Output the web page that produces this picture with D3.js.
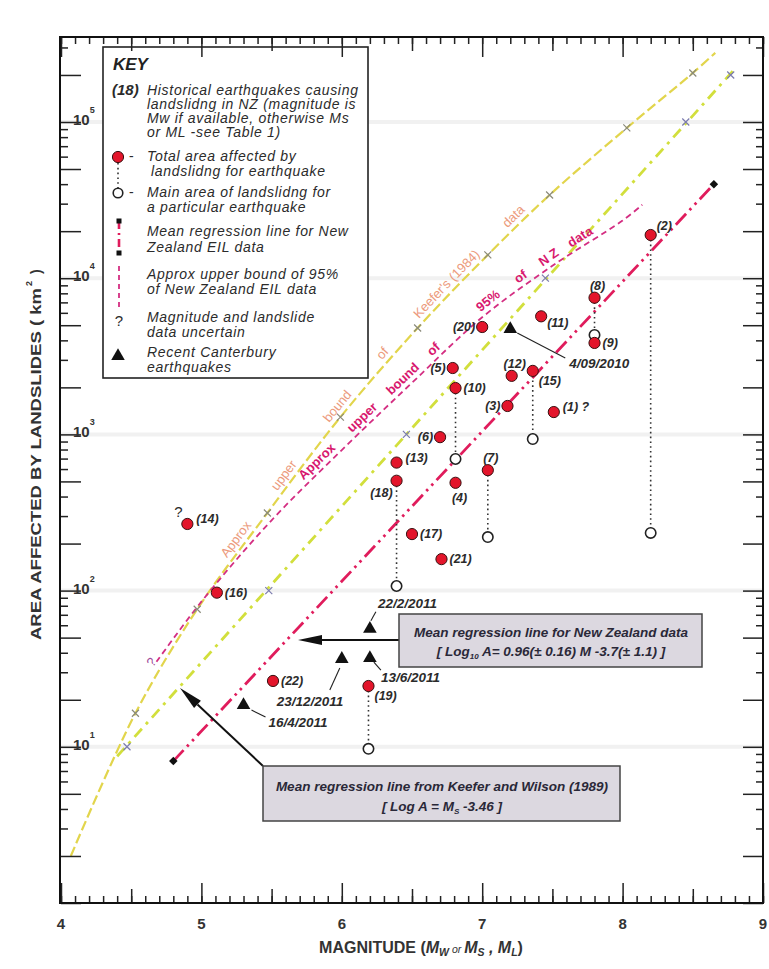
<!DOCTYPE html>
<html>
<head>
<meta charset="utf-8">
<script src="https://cdn.jsdelivr.net/npm/d3@7"></script>
<style>
  body { margin: 0; background: #fff; }
  svg { display: block; font-family: "Liberation Sans", Arial, sans-serif; }
</style>
</head>
<body>
<svg id="chart" width="769" height="969"></svg>
<script>
// ---------- data ----------
// historical NZ earthquakes (id, magnitude, total area affected, main area of landsliding)
const eqIds      = [1, 2, 3, 4, 5, 6, 7, 8, 9, 10, 11, 12, 13, 14, 15, 16, 17, 18, 19, 20, 21, 22];
const eqMag      = [7.51, 8.2, 7.18, 6.81, 6.79, 6.7, 7.04, 7.8, 7.8, 6.81, 7.42, 7.21, 6.39, 4.9, 7.36, 5.11, 6.5, 6.39, 6.19, 7.0, 6.71, 5.51];
const eqArea     = [1390, 18900, 1520, 490, 2660, 960, 590, 7500, 3850, 1980, 5700, 2370, 660, 267, 2550, 97, 230, 505, 24.5, 4870, 159, 26.4];
const eqMainArea = [null, 234, null, null, null, null, 220, 4330, null, 696, null, null, null, null, 934, null, null, 107, 9.7, null, null, null];
const eqQuery    = ["after", "", "", "", "", "", "", "", "", "", "", "", "", "above", "", "", "", "", "", "", "", ""];
const eqLabelSide = ["ru", "tr", "l", "b", "l", "l", "t", "t", "r", "r", "rl", "t", "ru", "ru", "br", "r", "r", "bl", "br", "l", "r", "r"];

// recent Canterbury earthquakes
const cantDates = ["4/09/2010", "22/2/2011", "13/6/2011", "23/12/2011", "16/4/2011"];
const cantMag   = [7.2, 6.2, 6.2, 6.0, 5.3];
const cantArea  = [4730, 57, 37, 36.5, 18.5];

// Keefer (1984) upper bound curve, markers at the inner points
const keeferM = [4.07, 4.53, 4.97, 5.47, 5.99, 6.54, 7.04, 7.48, 8.03, 8.5, 8.66];
const keeferA = [2.0, 16.4, 76, 314, 1290, 4800, 14100, 34100, 91600, 206000, 277000];

// Keefer & Wilson (1989) mean line and its markers
const kwM = [4.4, 8.8];
const kwA = [8.7, 219000];
const kwMarkM = [4.47, 5.48, 6.46, 7.45, 8.45, 8.77];
const kwMarkA = [10, 100, 1000, 10000, 100000, 200000];

// NZ mean regression line
const nzM = [4.8, 8.65];
const nzA = [8.1, 40000];

// approx upper bound of 95% of NZ data
const b95M = [4.68, 5.0, 5.5, 6.0, 6.5, 7.0, 7.5, 8.0, 8.14];
const b95A = [35, 85, 282, 794, 2140, 5620, 12000, 23400, 29500];

// words written along the two bound curves
const keeferWords  = ["Approx", "upper", "bound", "of", "Keefer's (1984)", "data"];
const keeferWordsM = [5.3, 5.64, 6.02, 6.34, 6.79, 7.27];
const b95Words  = ["Approx", "upper", "bound", "of", "95%", "of", "N Z", "data"];
const b95WordsM = [5.87, 6.19, 6.48, 6.7, 7.08, 7.31, 7.51, 7.73];

const xTickLabels = [4, 5, 6, 7, 8, 9];
const yTickExps = [1, 2, 3, 4, 5];

// ---------- colours ----------
const RED = "#e3152b", NZLINE = "#e01c5c", B95 = "#d42e82", KEEF = "#e2d54c", KW = "#d2df3c";
const SALMON = "#ec9a7c", MAGTXT = "#d8186e", INK = "#2b2b2b";

const svg = d3.select("#chart");
const plot = { left: 61, right: 763, top: 37, bottom: 903 };

const x = d3.scaleLinear().domain([4, 9]).range([plot.left, plot.right]);
const y = d3.scaleLog().domain([1, 3.5e5]).range([plot.bottom, plot.top]);

// faint decade bands
svg.append("g").selectAll("line")
    .data(yTickExps.map(e => Math.pow(10, e)))
    .join("line")
    .attr("x1", plot.left).attr("x2", plot.right)
    .attr("y1", d => y(d)).attr("y2", d => y(d))
    .attr("stroke", "#f1f1f1").attr("stroke-width", 4);

// ---------- curves ----------
const line = d3.line().x(d => x(d[0])).y(d => y(d[1]));
const curve = d3.line().x(d => x(d[0])).y(d => y(d[1])).curve(d3.curveCatmullRom);

const keeferPath = svg.append("path")
    .attr("id", "keefer")
    .attr("d", curve(d3.zip(keeferM, keeferA)))
    .attr("fill", "none").attr("stroke", KEEF)
    .attr("stroke-width", 2.2).attr("stroke-dasharray", "10,4");

svg.append("path")
    .attr("d", line(d3.zip(kwM, kwA)))
    .attr("fill", "none").attr("stroke", KW)
    .attr("stroke-width", 2.8).attr("stroke-dasharray", "11,6,3,6");

const b95Path = svg.append("path")
    .attr("id", "b95")
    .attr("d", curve(d3.zip(b95M, b95A)))
    .attr("fill", "none").attr("stroke", B95)
    .attr("stroke-width", 1.8).attr("stroke-dasharray", "6,4");

svg.append("path")
    .attr("d", line(d3.zip(nzM, nzA)))
    .attr("fill", "none").attr("stroke", NZLINE)
    .attr("stroke-width", 2.8).attr("stroke-dasharray", "15,5,2.5,5,2.5,5");

// black squares at the ends of the NZ regression line
svg.append("g").selectAll("rect")
    .data(d3.zip(nzM, nzA))
    .join("rect")
    .attr("x", d => x(d[0]) - 3).attr("y", d => y(d[1]) - 3)
    .attr("width", 6).attr("height", 6)
    .attr("fill", "#111")
    .attr("transform", d => `rotate(45,${x(d[0])},${y(d[1])})`);

// cross markers on the two yellow curves
function crosses(pts, color) {
    const s = 3.5;
    svg.append("g").selectAll("path")
        .data(pts)
        .join("path")
        .attr("d", d => {
            const cx = x(d[0]), cy = y(d[1]);
            return `M${cx - s},${cy - s}L${cx + s},${cy + s}M${cx - s},${cy + s}L${cx + s},${cy - s}`;
        })
        .attr("stroke", color).attr("stroke-width", 1.2);
}
crosses(d3.zip(keeferM, keeferA).slice(1, -1), "#8a8a7a");
crosses(d3.zip(kwMarkM, kwMarkA), "#7c7cae");

// words along a curve
function wordsAlong(pathSel, words, wordM, dy, color, size, weight) {
    const node = pathSel.node();
    const total = node.getTotalLength();
    const samples = d3.range(0, total, 1).map(l => [l, node.getPointAtLength(l).x]);
    words.forEach((w, i) => {
        const tx = x(wordM[i]);
        const best = d3.least(samples, s => Math.abs(s[1] - tx));
        svg.append("text")
            .attr("dy", dy)
            .attr("text-anchor", "middle")
            .attr("fill", color)
            .style("font-size", size + "px")
            .style("font-weight", weight)
            .append("textPath")
            .attr("href", "#" + node.id)
            .attr("startOffset", best[0])
            .text(w);
    });
}
wordsAlong(keeferPath, keeferWords, keeferWordsM, -5, SALMON, 13, "normal");
wordsAlong(b95Path, b95Words, b95WordsM, -5, MAGTXT, 13, "bold");

// question mark at the start of the 95% bound
svg.append("text")
    .attr("transform", `translate(${x(b95M[0]) - 4},${y(b95A[0]) + 6}) rotate(-50)`)
    .attr("fill", "#a04a9a").style("font-size", "13px")
    .text("?");

// ---------- earthquake points ----------
const eq = eqIds.map((id, i) => ({
    id, m: eqMag[i], a: eqArea[i], main: eqMainArea[i], q: eqQuery[i], side: eqLabelSide[i]
}));

svg.append("g").selectAll("line")
    .data(eq.filter(d => d.main !== null))
    .join("line")
    .attr("x1", d => x(d.m)).attr("x2", d => x(d.m))
    .attr("y1", d => y(d.a)).attr("y2", d => y(d.main))
    .attr("stroke", "#333").attr("stroke-width", 1.6)
    .attr("stroke-dasharray", "1.6,3.2");

svg.append("g").selectAll("circle")
    .data(eq.filter(d => d.main !== null))
    .join("circle")
    .attr("cx", d => x(d.m)).attr("cy", d => y(d.main)).attr("r", 5.2)
    .attr("fill", "#fff").attr("stroke", "#222").attr("stroke-width", 1.6);

svg.append("g").selectAll("circle")
    .data(eq)
    .join("circle")
    .attr("cx", d => x(d.m)).attr("cy", d => y(d.a)).attr("r", 5.6)
    .attr("fill", RED).attr("stroke", "#3a1010").attr("stroke-width", 1);

const labelOffset = {
    r: [8, 4, "start"], rl: [6, 11, "start"], ru: [9, -1, "start"],
    l: [-7, 4, "end"], t: [3, -8, "middle"], b: [4, 19, "middle"],
    tr: [6, -5, "start"], br: [6, 14, "start"], bl: [-4, 16, "end"]
};

svg.append("g").selectAll("text")
    .data(eq)
    .join("text")
    .attr("x", d => x(d.m) + labelOffset[d.side][0])
    .attr("y", d => y(d.a) + labelOffset[d.side][1])
    .attr("text-anchor", d => labelOffset[d.side][2])
    .attr("fill", INK)
    .style("font-size", "12.5px").style("font-weight", "bold").style("font-style", "italic")
    .text(d => `(${d.id})` + (d.q === "after" ? " ?" : ""));

svg.append("g").selectAll("text")
    .data(eq.filter(d => d.q === "above"))
    .join("text")
    .attr("x", d => x(d.m) - 9).attr("y", d => y(d.a) - 7)
    .attr("text-anchor", "middle")
    .attr("fill", INK).style("font-size", "15px")
    .text("?");

// ---------- Canterbury earthquakes ----------
// label placement relative to each triangle: text offset, leader line start/end
const cantLayout = [
    { tx: 59, ty: 39, l: [7, 4, 55, 29] },
    { tx: 8, ty: -21, l: [1, -8, 6, -17] },
    { tx: 11, ty: 24, l: [4, 4, 11, 12] },
    { tx: -65, ty: 47, l: [-12, 31, -2, 9] },
    { tx: 25, ty: 22, l: [8, 5, 22, 12] }
];
const cant = cantDates.map((d, i) => ({ date: d, m: cantMag[i], a: cantArea[i], lay: cantLayout[i] }));
const tri = d3.symbol().type(d3.symbolTriangle).size(80);

const cg = svg.append("g").selectAll("g").data(cant).join("g")
    .attr("transform", d => `translate(${x(d.m)},${y(d.a)})`);
cg.append("path").attr("d", tri).attr("fill", "#111");
cg.append("line")
    .attr("x1", d => d.lay.l[0]).attr("y1", d => d.lay.l[1])
    .attr("x2", d => d.lay.l[2]).attr("y2", d => d.lay.l[3])
    .attr("stroke", "#222").attr("stroke-width", 1.1);
cg.append("text")
    .attr("x", d => d.lay.tx).attr("y", d => d.lay.ty)
    .attr("fill", INK)
    .style("font-size", "13.5px").style("font-weight", "bold").style("font-style", "italic")
    .text(d => d.date);

// ---------- annotation boxes ----------
function arrow(x1, y1, x2, y2) {
    const ang = Math.atan2(y2 - y1, x2 - x1);
    const len = 24, hw = 5;
    const bx = x2 - len * Math.cos(ang), by = y2 - len * Math.sin(ang);
    svg.append("line")
        .attr("x1", x1).attr("y1", y1).attr("x2", bx).attr("y2", by)
        .attr("stroke", "#111").attr("stroke-width", 2);
    svg.append("path")
        .attr("d", `M${x2},${y2}L${bx - hw * Math.sin(ang)},${by + hw * Math.cos(ang)}L${bx + hw * Math.sin(ang)},${by - hw * Math.cos(ang)}Z`)
        .attr("fill", "#111");
}

function noteBox(bx, by, bw, bh) {
    svg.append("rect")
        .attr("x", bx).attr("y", by).attr("width", bw).attr("height", bh)
        .attr("fill", "#dcd8e0").attr("stroke", "#444").attr("stroke-width", 1.5);
}

arrow(399, 640, 298, 640);
noteBox(399, 614, 303, 53);
const nzT = svg.append("g")
    .attr("fill", "#2a2838")
    .style("font-size", "13.5px").style("font-weight", "bold").style("font-style", "italic")
    .attr("text-anchor", "middle");
nzT.append("text").attr("x", 551).attr("y", 637).text("Mean regression line for New Zealand data");
const nz2 = nzT.append("text").attr("x", 551).attr("y", 656);
nz2.append("tspan").text("[   Log");
nz2.append("tspan").attr("dy", 3).style("font-size", "8px").text("10");
nz2.append("tspan").attr("dy", -3).text(" A= 0.96(\u00b1 0.16) M -3.7(\u00b1 1.1)   ]");

arrow(263, 766, 180, 688);
noteBox(263, 766, 357, 55);
const kwT = svg.append("g")
    .attr("fill", "#2a2838")
    .style("font-size", "13.5px").style("font-weight", "bold").style("font-style", "italic")
    .attr("text-anchor", "middle");
kwT.append("text").attr("x", 442).attr("y", 791).text("Mean regression line from Keefer and Wilson (1989)");
const kw2 = kwT.append("text").attr("x", 442).attr("y", 811);
kw2.append("tspan").text("[   Log A = M");
kw2.append("tspan").attr("dy", 3).style("font-size", "8px").text("S");
kw2.append("tspan").attr("dy", -3).text(" -3.46    ]");

// ---------- key ----------
const key = svg.append("g");
key.append("rect")
    .attr("x", 103).attr("y", 47).attr("width", 265).attr("height", 331)
    .attr("fill", "#fff").attr("stroke", "#222").attr("stroke-width", 1.6);
key.append("text").attr("x", 113).attr("y", 70)
    .attr("fill", "#222")
    .style("font-size", "17px").style("font-weight", "bold").style("font-style", "italic")
    .text("KEY");

const keyLines = [
    [147, 95, "Historical earthquakes causing"],
    [147, 109, "landslidng in NZ (magnitude is"],
    [147, 123, "Mw if available, otherwise Ms"],
    [147, 137, "or ML -see Table 1)"],
    [147, 161, "Total area affected  by"],
    [151, 176, "landslidng for earthquake"],
    [147, 197, "Main area of landslidng for"],
    [147, 212, "a particular earthquake"],
    [147, 236, "Mean regression line for New"],
    [147, 252, "Zealand EIL data"],
    [147, 279, "Approx upper bound of 95%"],
    [147, 294, "of New Zealand EIL data"],
    [147, 322, "Magnitude and landslide"],
    [147, 337, "data uncertain"],
    [147, 357, "Recent Canterbury"],
    [147, 372, "earthquakes"]
];
key.append("g").selectAll("text")
    .data(keyLines)
    .join("text")
    .attr("x", d => d[0]).attr("y", d => d[1])
    .attr("fill", INK)
    .style("font-size", "14px").style("font-style", "italic").style("letter-spacing", "0.7px")
    .text(d => d[2]);
key.append("text").attr("x", 112).attr("y", 95)
    .attr("fill", INK)
    .style("font-size", "15px").style("font-weight", "bold").style("font-style", "italic")
    .text("(18)");
key.selectAll(".dash").data([161, 197]).join("text")
    .attr("x", 129).attr("y", d => d).attr("fill", INK).style("font-size", "14px").text("-");

key.append("line").attr("x1", 118).attr("x2", 118).attr("y1", 163).attr("y2", 188)
    .attr("stroke", "#333").attr("stroke-width", 1.6).attr("stroke-dasharray", "1.6,3.2");
key.append("circle").attr("cx", 118).attr("cy", 157).attr("r", 5.6)
    .attr("fill", RED).attr("stroke", "#3a1010");
key.append("circle").attr("cx", 118).attr("cy", 193).attr("r", 4.8)
    .attr("fill", "#fff").attr("stroke", "#222").attr("stroke-width", 1.6);

key.append("line").attr("x1", 119).attr("x2", 119).attr("y1", 221).attr("y2", 253)
    .attr("stroke", NZLINE).attr("stroke-width", 2.6).attr("stroke-dasharray", "8,4,2,4");
key.selectAll(".sq").data([221, 253]).join("rect")
    .attr("x", 116.5).attr("y", d => d - 2.5).attr("width", 5).attr("height", 5).attr("fill", "#111");

key.append("line").attr("x1", 119).attr("x2", 119).attr("y1", 266).attr("y2", 307)
    .attr("stroke", B95).attr("stroke-width", 1.8).attr("stroke-dasharray", "5,4");
key.append("text").attr("x", 119).attr("y", 326).attr("text-anchor", "middle")
    .attr("fill", INK).style("font-size", "15px").text("?");
key.append("path").attr("d", tri).attr("transform", "translate(118,356)").attr("fill", "#111");

// ---------- axes ----------
function ticks(gen, values, len, transform) {
    const g = svg.append("g")
        .attr("transform", transform)
        .call(gen.tickValues(values).tickSize(-len).tickFormat(""));
    g.select(".domain").remove();
    g.selectAll(".tick line").attr("stroke", "#222").attr("stroke-width", 1.5);
    return g;
}

const xMinor = d3.range(40, 91).map(d => d / 10);
const xHalf = d3.range(4.5, 9, 1);
const ySteps = [];
for (let e = 0; e <= 5; e++) for (let k = 1; k <= 9; k++) {
    const v = k * Math.pow(10, e);
    if (v <= 3.5e5) ySteps.push(v);
}
const yMajor = ySteps.filter(v => [1, 2, 5].includes(Math.round(v / Math.pow(10, Math.floor(Math.log10(v) + 1e-9)))));
const yMinor = ySteps.filter(v => !yMajor.includes(v));

[[d3.axisBottom(x), `translate(0,${plot.bottom})`], [d3.axisTop(x), `translate(0,${plot.top})`]]
    .forEach(([gen, tr]) => {
        ticks(gen, xMinor, 7, tr);
        ticks(gen, xHalf, 14, tr);
        ticks(gen, xTickLabels, 20, tr);
    });
[[d3.axisLeft(y), `translate(${plot.left},0)`], [d3.axisRight(y), `translate(${plot.right},0)`]]
    .forEach(([gen, tr]) => {
        ticks(gen, yMinor, 7, tr);
        ticks(gen, yMajor, 20, tr);
    });

// x tick labels
svg.append("g").selectAll("text")
    .data(xTickLabels)
    .join("text")
    .attr("x", d => x(d)).attr("y", 929)
    .attr("text-anchor", "middle")
    .attr("fill", "#333")
    .style("font-size", "15px").style("font-weight", "bold")
    .text(d => d);

// y tick labels 10^n
const yl = svg.append("g").selectAll("text")
    .data(yTickExps)
    .join("text")
    .attr("x", plot.left + 12).attr("y", d => y(Math.pow(10, d)) + 3)
    .attr("fill", "#333")
    .style("font-size", "15px").style("font-weight", "bold");
yl.append("tspan").text("10");
yl.append("tspan").attr("dy", -12).style("font-size", "9px").text(d => d);

// frame
svg.append("rect")
    .attr("x", plot.left - 1).attr("y", plot.top)
    .attr("width", plot.right - plot.left + 1).attr("height", plot.bottom - plot.top)
    .attr("fill", "none").attr("stroke", "#111").attr("stroke-width", 2);

// axis titles
const xt = svg.append("text")
    .attr("x", 421).attr("y", 953)
    .attr("text-anchor", "middle")
    .attr("fill", "#333")
    .style("font-size", "16px").style("font-weight", "bold");
xt.append("tspan").text("MAGNITUDE (");
xt.append("tspan").style("font-style", "italic").text("M");
xt.append("tspan").attr("dy", 3).style("font-size", "10.5px").style("font-style", "italic").text("W");
xt.append("tspan").attr("dy", -3).style("font-size", "10.5px").style("font-style", "italic").style("font-weight", "normal").text("  or ");
xt.append("tspan").style("font-style", "italic").text("M");
xt.append("tspan").attr("dy", 3).style("font-size", "10.5px").style("font-style", "italic").text("S");
xt.append("tspan").attr("dy", -3).style("font-style", "italic").text(" , M");
xt.append("tspan").attr("dy", 3).style("font-size", "10.5px").style("font-style", "italic").text("L");
xt.append("tspan").attr("dy", -3).text(")");

const yt = svg.append("g").attr("transform", "translate(41,640) rotate(-90)")
    .attr("fill", "#333").style("font-weight", "bold");
yt.append("text").attr("x", 0).attr("y", 0)
    .attr("textLength", 352).attr("lengthAdjust", "spacingAndGlyphs")
    .style("font-size", "14.5px")
    .text("AREA AFFECTED BY LANDSLIDES ( km");
yt.append("text").attr("x", 354).attr("y", -9).style("font-size", "9px").text("2");
yt.append("text").attr("x", 366).attr("y", 0).style("font-size", "14.5px").text(")");
</script>
</body>
</html>
